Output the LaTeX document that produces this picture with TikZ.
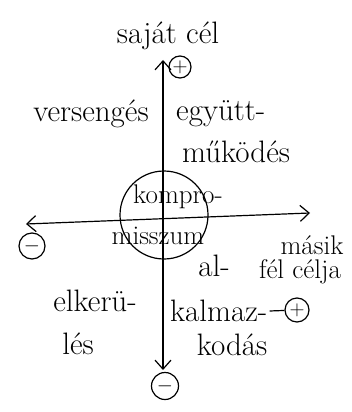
\documentclass[tikz,border=0pt]{standalone}
\usepackage{tikz}
\usetikzlibrary{arrows.meta}
\tikzset{
	word/.style={font=\fontsize{31}{33}\selectfont,inner sep=0pt},
	small/.style={font=\fontsize{27}{29}\selectfont,inner sep=0pt},
	sign/.style 2 args={circle,draw,line width=1.2pt,minimum size=#1,inner sep=0pt,font=\fontsize{22}{22}\selectfont,name=#2},
	axis/.style={line width=1.2pt,{Straight Barb[length=9pt,width=16pt]}-{Straight Barb[length=9pt,width=16pt]}}
}
\begin{document}
\begin{tikzpicture}[x=1pt,y=-1pt]
						\useasboundingbox (0,0) rectangle (352,412);
						\node [word] (sajat) at (168,36) {saját cél};
						\node [sign={22pt}{plus1}] at (180,67) {$+$};
						\node [sign={27pt}{minus1}] at (165,386) {$-$};
						\node [sign={26pt}{minus2}] at (32,246) {$-$};
						\node [sign={24pt}{plus2}] at (297,310) {$+$};
						\node [circle,draw,line width=1.2pt,minimum size=88pt] (kompr) at (164,215) {};
						
						\coordinate (top) at (163,60);
						\coordinate (bot) at (163,370);
						\coordinate (left) at (26,224);
						\coordinate (right) at (310,213);
						\draw [axis] (bot) -- (top);
						\draw [axis] (left) -- (right);
						
						\node [word] (verseng) at (91,114) {versengés};
						\node [word,anchor=west] (egyutt) at (176,114) {együtt-};
						\node [word,anchor=west] (mukod) at (182,152) {működés};
						\node [small] (kompro) at (178,197) {kompro-};
						\node [small] (misszum) at (158,236) {misszum};
						\node [word] (al) at (214,266) {al-};
						\node [small] (masik) at (312,245) {másik};
						\node [small] (felcel) at (300,272) {fél célja};
						\node [word] (elker) at (95,301) {elkerü-};
						\node [word] (les) at (78,344) {lés};
						\node [word,anchor=west] (kalmaz) at (170,311) {kalmaz-};
						\node [word] (kodas) at (232,345) {kodás};
						\draw [line width=1.2pt] (kalmaz.east) ++(2,0) -- (plus2);
;					\end{tikzpicture}
\end{document}
